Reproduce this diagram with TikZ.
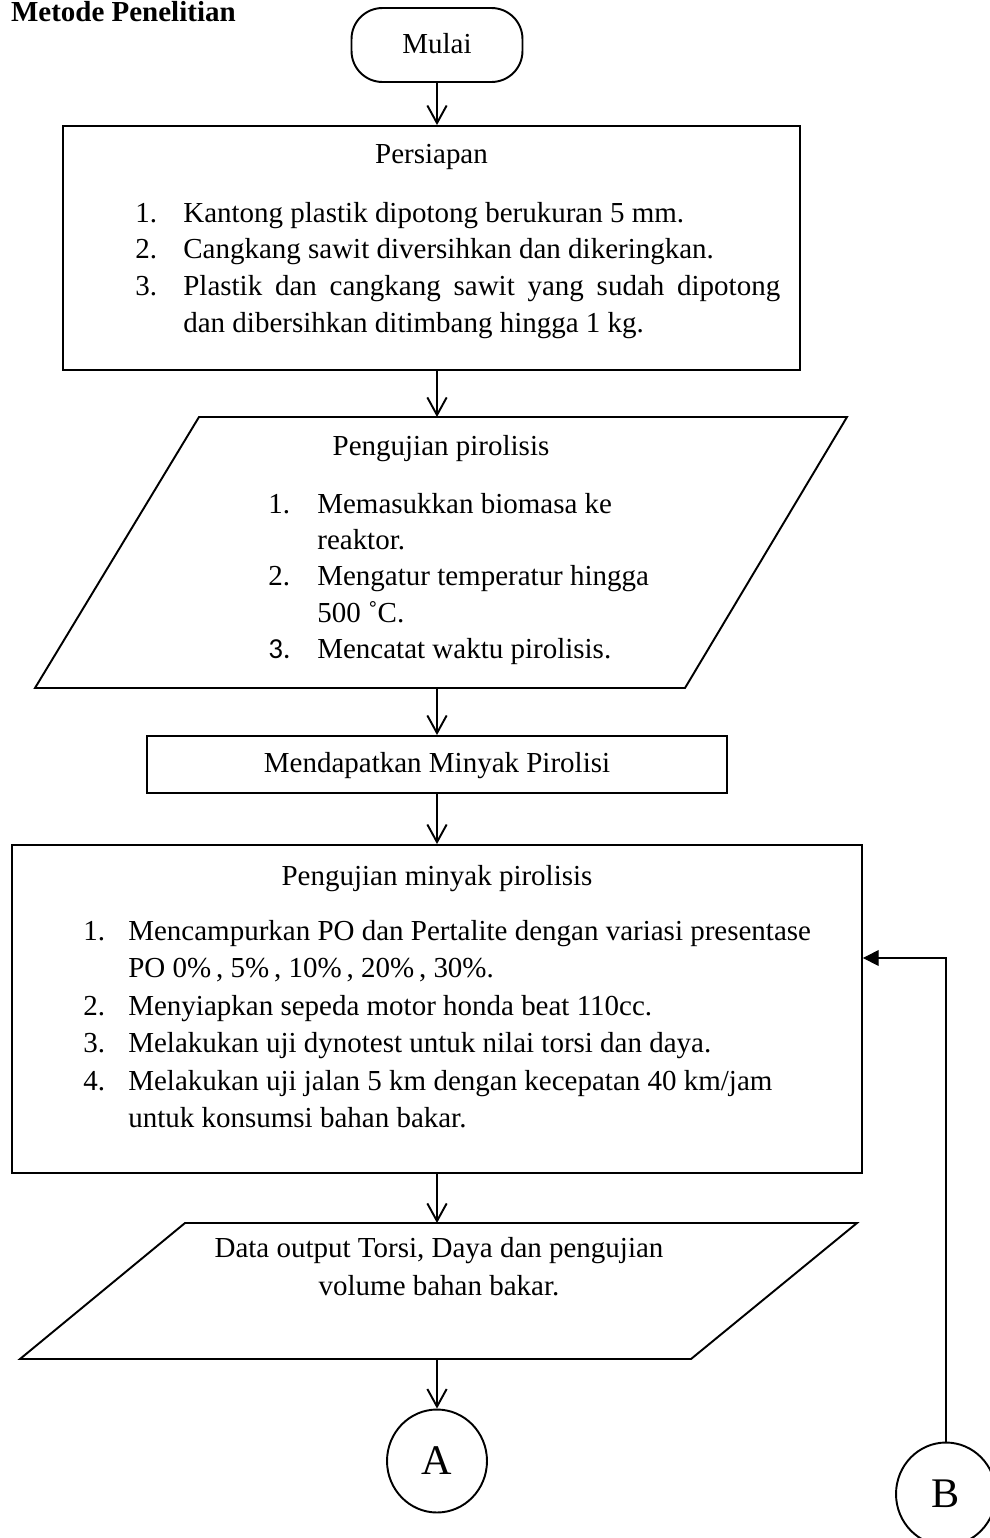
\documentclass[tikz,border=0pt]{standalone}
\usepackage{fontspec}
\setmainfont{Liberation Serif}
\newfontfamily\carlito{Carlito}
\usetikzlibrary{positioning,arrows.meta,shapes.geometric}
\tikzset{startnode/.style={draw=black, line width=1.1pt, rounded corners=0.62cm, minimum width=3.42cm, minimum height=1.48cm, inner sep=0pt},}
\tikzset{prosesnode/.style={draw=black, line width=1.1pt, inner sep=0pt},}
\tikzset{konektor/.style={ellipse, draw=black, line width=1.1pt, minimum width=2cm, minimum height=2.06cm, inner sep=0pt, font=\fontsize{24}{28}\selectfont},}
\tikzset{teks/.style={inner sep=0pt, anchor=base west},}
\tikzset{judul/.style={inner sep=0pt, anchor=base},}
\tikzset{panah/.style={line width=1.1pt, -{Straight Barb[length=10pt,width=11pt]}},}

\begin{document}
\begin{tikzpicture}[x=0.02cm, y=-0.02cm, font=\fontsize{16.5}{20}\selectfont]
\useasboundingbox (0,0) rectangle (990,1538);
\node [inner sep=0pt, anchor=base east, font=\fontsize{16.5}{20}\selectfont\bfseries] (judulbab) at (236,21) {Metode Penelitian};

% mulai
\node [startnode] (mulai) at (437,45) {};
\node [judul] (tmulai) at (437,53) {Mulai};

% persiapan
\node [prosesnode, minimum width=14.74cm, minimum height=4.88cm] (persiapan) at (431.5,248) {};
\node [judul] (tpers) at (431.5,163) {Persiapan};
\node [teks] (p1n) at (135,222) {1.};
\node [teks] (p1) at (183,222) {Kantong plastik dipotong berukuran 5 mm.};
\node [teks] (p2n) at (135,258) {2.};
\node [teks] (p2) at (183,258) {Cangkang sawit diversihkan dan dikeringkan.};
\node [teks] (p3n) at (135,295) {3.};
\node [teks] (p3) at (183,295) {\makebox[11.94cm][s]{Plastik dan cangkang sawit yang sudah dipotong}};
\node [teks] (p3b) at (183,332) {dan dibersihkan ditimbang hingga 1 kg.};

% pengujian pirolisis
\coordinate (pir-n) at (437,417);
\coordinate (pir-s) at (437,688);
\draw [line width=1.1pt, line join=miter] (199,417) -- (847,417) -- (685,688) -- (35,688) -- cycle;
\node [judul] (tpir) at (441,455) {Pengujian pirolisis};
\node [teks] (r1n) at (268,513) {1.};
\node [teks] (r1) at (317,513) {Memasukkan biomasa ke};
\node [teks] (r1b) at (317,549) {reaktor.};
\node [teks] (r2n) at (268,585) {2.};
\node [teks] (r2) at (317,585) {Mengatur temperatur hingga};
\node [teks] (r2b) at (317,622) {500 ˚C.};
\node [teks, font=\fontsize{16.5}{20}\carlito] (r3n) at (268,658) {3.};
\node [teks] (r3) at (317,658) {Mencatat waktu pirolisis.};

% minyak
\node [prosesnode, minimum width=11.6cm, minimum height=1.14cm] (minyak) at (437,764.5) {};
\node [judul] (tminyak) at (437,772) {Mendapatkan Minyak Pirolisi};

% pengujian minyak
\node [prosesnode, minimum width=17cm, minimum height=6.56cm] (uji) at (437,1009) {};
\node [judul] (tuji) at (437,885) {Pengujian minyak pirolisis};
\node [teks] (u1n) at (83,940) {1.};
\node [teks] (u1) at (128,940) {Mencampurkan PO dan Pertalite dengan variasi presentase};
\node [teks] (u1b) at (128,977) {PO 0\%\,, 5\%\,, 10\%\,, 20\%\,, 30\%.};
\node [teks] (u2n) at (83,1015) {2.};
\node [teks] (u2) at (128,1015) {Menyiapkan sepeda motor honda beat 110cc.};
\node [teks] (u3n) at (83,1052) {3.};
\node [teks] (u3) at (128,1052) {Melakukan uji dynotest untuk nilai torsi dan daya.};
\node [teks] (u4n) at (83,1090) {4.};
\node [teks] (u4) at (128,1090) {Melakukan uji jalan 5 km dengan kecepatan 40 km/jam};
\node [teks] (u4b) at (128,1127) {untuk konsumsi bahan bakar.};

% data output
\coordinate (dat-n) at (437,1223);
\coordinate (dat-s) at (437,1359);
\draw [line width=1.1pt, line join=miter] (185,1223) -- (857,1223) -- (691,1359) -- (20,1359) -- cycle;
\node [judul] (tdat1) at (439,1257) {Data output Torsi, Daya dan pengujian};
\node [judul] (tdat2) at (439,1295) {volume bahan bakar.};

% konektor
\node [konektor] (A) at (437,1461) {A};
\node [konektor] (B) at (946,1494) {B};
\coordinate (belok) at (946,958);

\draw [panah] (mulai) -- (mulai |- persiapan.north);
\draw [panah] (mulai |- persiapan.south) -- (pir-n);
\draw [panah] (pir-s) -- (minyak);
\draw [panah] (minyak) -- (minyak |- uji.north);
\draw [panah] (minyak |- uji.south) -- (dat-n);
\draw [panah] (dat-s) -- (A);
\draw [line width=0.6pt, -{Triangle[length=9pt,width=9pt]}] (B) -- (belok) -- (uji.east |- belok);
\end{tikzpicture}
\end{document}
